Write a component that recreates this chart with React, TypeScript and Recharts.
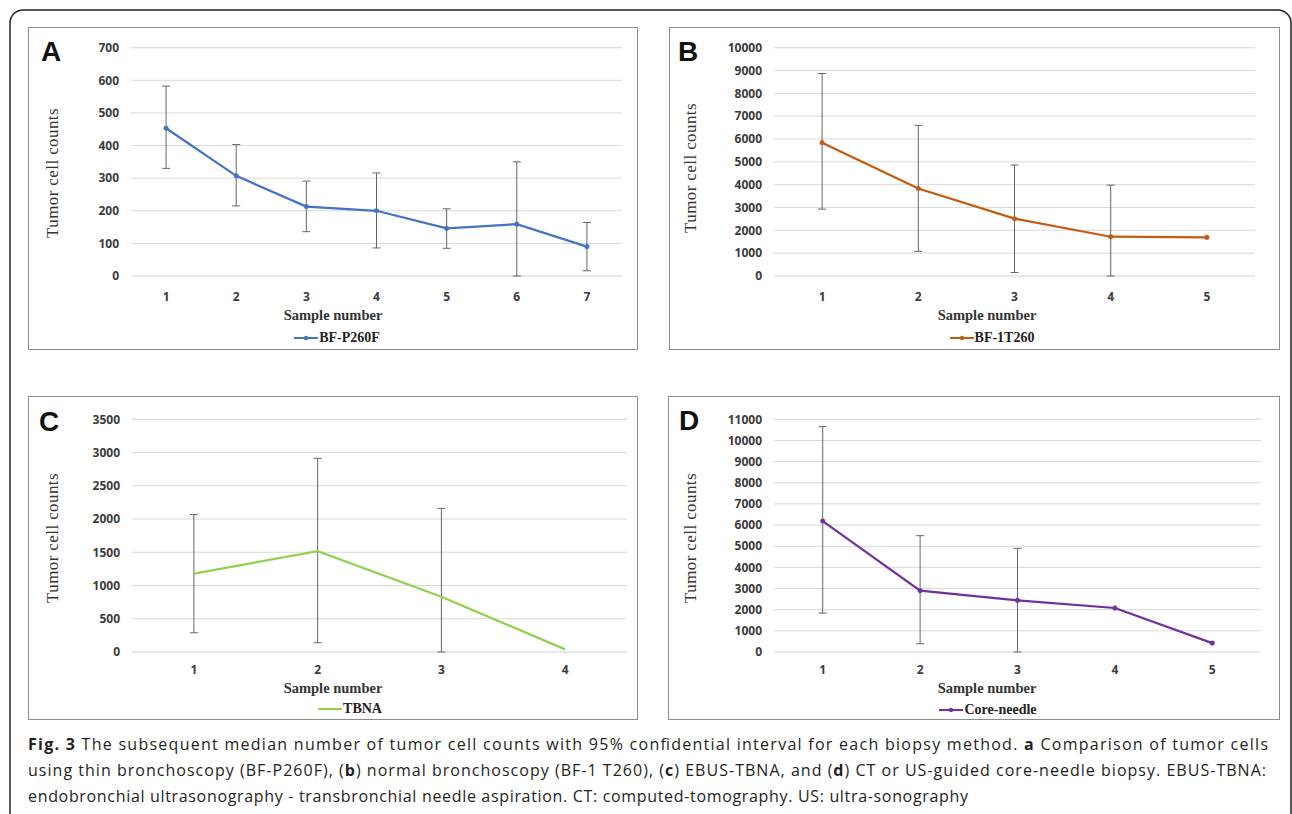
import React from "react";
import { LineChart, Line, XAxis, YAxis, CartesianGrid, ErrorBar, Legend } from "recharts";

// values (median and 95% CI bounds)
const samplesA = ["1", "2", "3", "4", "5", "6", "7"];
const medianA = [453, 307, 213, 200, 146, 159, 90];
const lowA = [330, 215, 136, 86, 85, 0, 16];
const highA = [582, 403, 291, 316, 206, 350, 164];
const ticksA = [0, 100, 200, 300, 400, 500, 600, 700];

const samplesB = ["1", "2", "3", "4", "5"];
const medianB = [5840, 3830, 2510, 1720, 1690];
const lowB = [2930, 1080, 150, 0, null];
const highB = [8870, 6600, 4860, 3980, null];
const ticksB = [0, 1000, 2000, 3000, 4000, 5000, 6000, 7000, 8000, 9000, 10000];

const samplesC = ["1", "2", "3", "4"];
const medianC = [1180, 1517, 830, 40];
const lowC = [290, 140, 0, null];
const highC = [2067, 2913, 2160, null];
const ticksC = [0, 500, 1000, 1500, 2000, 2500, 3000, 3500];

const samplesD = ["1", "2", "3", "4", "5"];
const medianD = [6190, 2900, 2440, 2080, 420];
const lowD = [1840, 390, 0, null, null];
const highD = [10650, 5500, 4900, null, null];
const ticksD = [0, 1000, 2000, 3000, 4000, 5000, 6000, 7000, 8000, 9000, 10000, 11000];

type Row = { sample: string; median: number; ci: [number, number] | null };

function toRows(samples: string[], median: number[], low: (number | null)[], high: (number | null)[]): Row[] {
  return samples.map((s, i) => {
    const lo = low[i];
    const hi = high[i];
    return {
      sample: s,
      median: median[i],
      ci: lo == null || hi == null ? null : [median[i] - lo, hi - median[i]],
    };
  });
}

// light gridlines halfway between the labelled ones
function minorTicks(ticks: number[]) {
  const out: number[] = [];
  ticks.forEach((t, i) => {
    out.push(t);
    if (i < ticks.length - 1) out.push((t + ticks[i + 1]) / 2);
  });
  return out;
}

type Box = {
  x: number; y: number; w: number; h: number;
  plotLeft: number; plotRight: number; plotTop: number; plotBottom: number;
  tickGap: number; legendX: number; legendY: number;
};

const boxA: Box = { x: 28, y: 27, w: 610, h: 323, plotLeft: 131, plotRight: 622, plotTop: 47.7, plotBottom: 276, tickGap: 16, legendX: 337, legendY: 338 };
const boxB: Box = { x: 669, y: 27, w: 611, h: 323, plotLeft: 774, plotRight: 1255, plotTop: 47.7, plotBottom: 276, tickGap: 16, legendX: 992, legendY: 338 };
const boxC: Box = { x: 28, y: 396, w: 610, h: 324, plotLeft: 132, plotRight: 627, plotTop: 419.3, plotBottom: 652, tickGap: 13, legendX: 350, legendY: 709 };
const boxD: Box = { x: 668, y: 396, w: 612, h: 324, plotLeft: 774, plotRight: 1261, plotTop: 419.3, plotBottom: 652, tickGap: 13, legendX: 988, legendY: 710 };

const tickFont = { fontFamily: '"Open Sans", sans-serif', fontSize: 12, fontWeight: 700, fill: "#3b3b3b" };
const serif = '"Liberation Serif", "Times New Roman", serif';

const renderLegend = (props: any) => {
  const items = props.payload || [];
  return (
    <div style={{ display: "flex", justifyContent: "center", alignItems: "center", height: 16 }}>
      {items.map((it: any) => (
        <div key={it.value} style={{ display: "flex", alignItems: "center" }}>
          <svg width={24} height={10}>
            <line x1={0} y1={5} x2={24} y2={5} stroke={it.color} strokeWidth={2} />
            {it.payload?.dot !== false && <circle cx={12} cy={5} r={2.2} fill={it.color} />}
          </svg>
          <span style={{ fontFamily: serif, fontWeight: 700, fontSize: 14, color: "#222", marginLeft: 1 }}>{it.value}</span>
        </div>
      ))}
    </div>
  );
};

function Panel({ box, rows, ticks, color, name, showDot }: { box: Box; rows: Row[]; ticks: number[]; color: string; name: string; showDot: boolean }) {
  const plotW = box.plotRight - box.plotLeft;
  const pad = plotW / (2 * rows.length);
  const legendH = 16;
  const xAxisH = 24;
  const margin = {
    top: box.plotTop - box.y,
    right: box.x + box.w - box.plotRight,
    left: 0,
    bottom: box.h - (box.plotBottom - box.y) - xAxisH - legendH,
  };
  const max = ticks[ticks.length - 1];
  return (
    <div style={{ position: "absolute", left: box.x, top: box.y, width: box.w, height: box.h }}>
      <LineChart width={box.w} height={box.h} data={rows} margin={margin}>
        <YAxis yAxisId="minor" hide domain={[0, max]} ticks={minorTicks(ticks)} />
        <CartesianGrid yAxisId="minor" vertical={false} stroke="#efefef" />
        <CartesianGrid vertical={false} stroke="#d9d9d9" />
        <XAxis
          dataKey="sample"
          height={xAxisH}
          padding={{ left: pad, right: pad }}
          axisLine={false}
          tickLine={false}
          tickSize={0}
          tickMargin={box.tickGap}
          tick={tickFont}
          interval={0}
        />
        <YAxis
          width={box.plotLeft - box.x}
          domain={[0, max]}
          ticks={ticks}
          interval={0}
          axisLine={false}
          tickLine={false}
          tickSize={0}
          tickMargin={12}
          tick={tickFont}
        />
        <Legend
          verticalAlign="bottom"
          height={legendH}
          wrapperStyle={{ left: box.legendX - box.x - 150, width: 300, top: box.legendY - box.y - legendH / 2, bottom: "auto" }}
          content={renderLegend}
        />
        <Line
          dataKey="median"
          name={name}
          stroke={color}
          strokeWidth={2.25}
          dot={showDot ? { r: 2.3, fill: color, stroke: color, strokeWidth: 0.5 } : false}
          activeDot={false}
          isAnimationActive={false}
        >
          <ErrorBar dataKey="ci" width={4} stroke="#666" strokeWidth={1} direction="y" isAnimationActive={false} />
        </Line>
      </LineChart>
    </div>
  );
}

const yTitle = "Tumor cell counts";
const xTitle = "Sample number";

export default function App() {
  const boxes = [boxA, boxB, boxC, boxD];
  const letters = [
    { t: "A", x: 41, y: 61 },
    { t: "B", x: 678, y: 61 },
    { t: "C", x: 39, y: 431 },
    { t: "D", x: 679, y: 430 },
  ];
  const yTitles = [
    { x: 52, y: 173 },
    { x: 690, y: 168 },
    { x: 52, y: 538 },
    { x: 690, y: 538 },
  ];
  const xTitles = [
    { x: 333, y: 320 },
    { x: 987, y: 320 },
    { x: 333, y: 693 },
    { x: 987, y: 693 },
  ];
  const capFont = '"Open Sans", sans-serif';
  return (
    <div style={{ position: "absolute", left: 0, top: 0, width: 1292, height: 814, background: "#fff", overflow: "hidden" }}>
      <Panel box={boxA} rows={toRows(samplesA, medianA, lowA, highA)} ticks={ticksA} color="#4472C4" name="BF-P260F" showDot />
      <Panel box={boxB} rows={toRows(samplesB, medianB, lowB, highB)} ticks={ticksB} color="#C55A11" name="BF-1T260" showDot />
      <Panel box={boxC} rows={toRows(samplesC, medianC, lowC, highC)} ticks={ticksC} color="#92D050" name="TBNA" showDot={false} />
      <Panel box={boxD} rows={toRows(samplesD, medianD, lowD, highD)} ticks={ticksD} color="#7030A0" name="Core-needle" showDot />

      <svg width={1292} height={814} style={{ position: "absolute", left: 0, top: 0, pointerEvents: "none" }}>
        <rect x={10} y={10} width={1281} height={900} rx={13} fill="none" stroke="#222" strokeWidth={1.5} />
        {boxes.map((b, i) => (
          <rect key={i} x={b.x + 0.5} y={b.y + 0.5} width={b.w - 1} height={b.h - 1} fill="none" stroke="#8c8c8c" strokeWidth={1} />
        ))}
        {letters.map((l) => (
          <text key={l.t} x={l.x} y={l.y} fontFamily='"Liberation Sans", Arial, sans-serif' fontWeight={700} fontSize={28} fill="#111">
            {l.t}
          </text>
        ))}
        {yTitles.map((p, i) => (
          <text
            key={i}
            x={p.x}
            y={p.y}
            textAnchor="middle"
            dominantBaseline="central"
            transform={`rotate(-90 ${p.x} ${p.y})`}
            fontFamily={serif}
            fontSize={17}
            letterSpacing={0.4}
            fill="#333"
          >
            {yTitle}
          </text>
        ))}
        {xTitles.map((p, i) => (
          <text key={i} x={p.x} y={p.y} textAnchor="middle" fontFamily={serif} fontWeight={700} fontSize={14.5} fill="#333">
            {xTitle}
          </text>
        ))}
        <text x={28} y={750} fontFamily={capFont} fontSize={16} fill="#231f20" textLength={1240} lengthAdjust="spacing">
          <tspan fontWeight={700}>Fig. 3</tspan> The subsequent median number of tumor cell counts with 95% confidential interval for each biopsy method.{" "}
          <tspan fontWeight={700}>a</tspan> Comparison of tumor cells
        </text>
        <text x={28} y={776} fontFamily={capFont} fontSize={16} fill="#231f20" textLength={1238} lengthAdjust="spacing">
          using thin bronchoscopy (BF-P260F), (<tspan fontWeight={700}>b</tspan>) normal bronchoscopy (BF-1 T260), (
          <tspan fontWeight={700}>c</tspan>) EBUS-TBNA, and (<tspan fontWeight={700}>d</tspan>) CT or US-guided core-needle biopsy. EBUS-TBNA:
        </text>
        <text x={28} y={802} fontFamily={capFont} fontSize={16} fill="#231f20" textLength={940} lengthAdjust="spacing">
          endobronchial ultrasonography - transbronchial needle aspiration. CT: computed-tomography. US: ultra-sonography
        </text>
      </svg>
    </div>
  );
}
